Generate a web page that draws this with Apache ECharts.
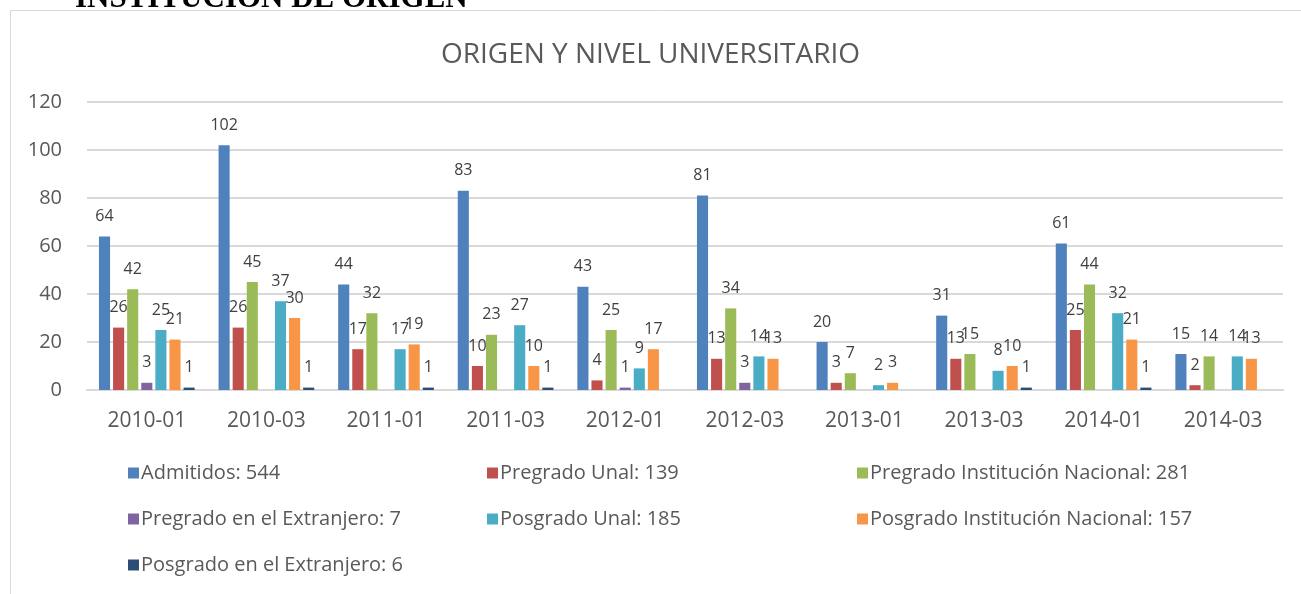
<!DOCTYPE html>
<html>
<head>
<meta charset="utf-8">
<script src="https://cdn.jsdelivr.net/npm/echarts@6/dist/echarts.min.js"></script>
<style>
html,body{margin:0;padding:0;background:#fff;}
#chartDiv{width:1301px;height:594px;}
</style>
</head>
<body>
<div id="chartDiv"></div>
<script>
// categorias (periodos)
var periodos = ['2010-01','2010-03','2011-01','2011-03','2012-01','2012-03','2013-01','2013-03','2014-01','2014-03'];
// series
var admitidos      = [64, 102, 44, 83, 43, 81, 20, 31, 61, 15];
var pregUnal       = [26, 26, 17, 10, 4, 13, 3, 13, 25, 2];
var pregNacional   = [42, 45, 32, 23, 25, 34, 7, 15, 44, 14];
var pregExtranjero = [3, 0, 0, 0, 1, 3, 0, 0, 0, 0];
var posUnal        = [25, 37, 17, 27, 9, 14, 2, 8, 32, 14];
var posNacional    = [21, 30, 19, 10, 17, 13, 3, 10, 21, 13];
var posExtranjero  = [1, 1, 1, 1, 0, 0, 0, 1, 1, 0];
// eje y
var yTicks = [0, 20, 40, 60, 80, 100, 120];

var nombres = ['Admitidos','Pregrado Unal','Pregrado Institución Nacional','Pregrado en el Extranjero',
               'Posgrado Unal','Posgrado Institución Nacional','Posgrado en el Extranjero'];
var datos = [admitidos, pregUnal, pregNacional, pregExtranjero, posUnal, posNacional, posExtranjero];
var colores = ['#4F81BD','#C0504D','#9BBB59','#8064A2','#4BACC6','#F79646','#2C4D75'];

var fuente = '"Open Sans", sans-serif';

// totales para la leyenda
var totales = {};
for(var i=0;i<nombres.length;i++){
	var s = 0;
	for(var j=0;j<datos[i].length;j++){ s += datos[i][j]; }
	totales[nombres[i]] = s;
}

var series = [];
for(var i=0;i<nombres.length;i++){
	series.push({
		name: nombres[i],
		type: 'bar',
		data: datos[i],
		barGap: '27%',
		barCategoryGap: '20%',
		itemStyle: {color: colores[i]},
		label: {
			show: true,
			position: 'top',
			distance: 12,
			color: '#404040',
			fontSize: 16,
			fontFamily: fuente,
			formatter: function(p){ return p.value == 0 ? '' : p.value; }
		}
	});
}

function leyenda(nombresCol, left){
	return {
		orient: 'vertical',
		left: left,
		top: 458,
		itemWidth: 11,
		itemHeight: 11,
		itemGap: 26,
		icon: 'rect',
		data: nombresCol,
		textStyle: {color: '#595959', fontSize: 20, lineHeight: 20, fontFamily: fuente, padding: [0,0,0,-3]},
		formatter: function(name){ return name + ': ' + totales[name]; }
	};
}

var myChart = echarts.init(document.getElementById('chartDiv'));
var option = {
	animation: false,
	backgroundColor: '#fff',
	title: {
		text: 'ORIGEN Y NIVEL UNIVERSITARIO',
		left: 'center',
		top: 36,
		textStyle: {color: '#595959', fontSize: 28, fontWeight: 'normal', fontFamily: fuente}
	},
	graphic: [
		{type: 'rect', shape: {x: 10.5, y: 10.5, width: 1400, height: 700}, style: {fill: 'none', stroke: '#d9d9d9', lineWidth: 1}},
		{type: 'text', x: 75, y: 14, style: {text: 'INSTITUCION DE ORIGEN', font: 'bold 31px "Liberation Serif", serif', fill: '#000', verticalAlign: 'bottom'}}
	],
	legend: [
		leyenda(['Admitidos','Pregrado en el Extranjero','Posgrado en el Extranjero'], 123),
		leyenda(['Pregrado Unal','Posgrado Unal'], 482),
		leyenda(['Pregrado Institución Nacional','Posgrado Institución Nacional'], 852)
	],
	grid: {left: 87, right: 18, top: 102, bottom: 204},
	xAxis: {
		type: 'category',
		data: periodos,
		axisLine: {lineStyle: {color: '#d9d9d9', width: 2}},
		axisTick: {show: false},
		axisLabel: {color: '#595959', fontSize: 21, fontFamily: fuente, margin: 21}
	},
	yAxis: {
		type: 'value',
		min: yTicks[0],
		max: yTicks[yTicks.length-1],
		interval: 20,
		axisLine: {show: false},
		axisTick: {show: false},
		splitLine: {lineStyle: {color: '#d9d9d9', width: 2}},
		axisLabel: {color: '#595959', fontSize: 20, fontFamily: fuente, margin: 25}
	},
	series: series
};
myChart.setOption(option);
</script>
</body>
</html>
